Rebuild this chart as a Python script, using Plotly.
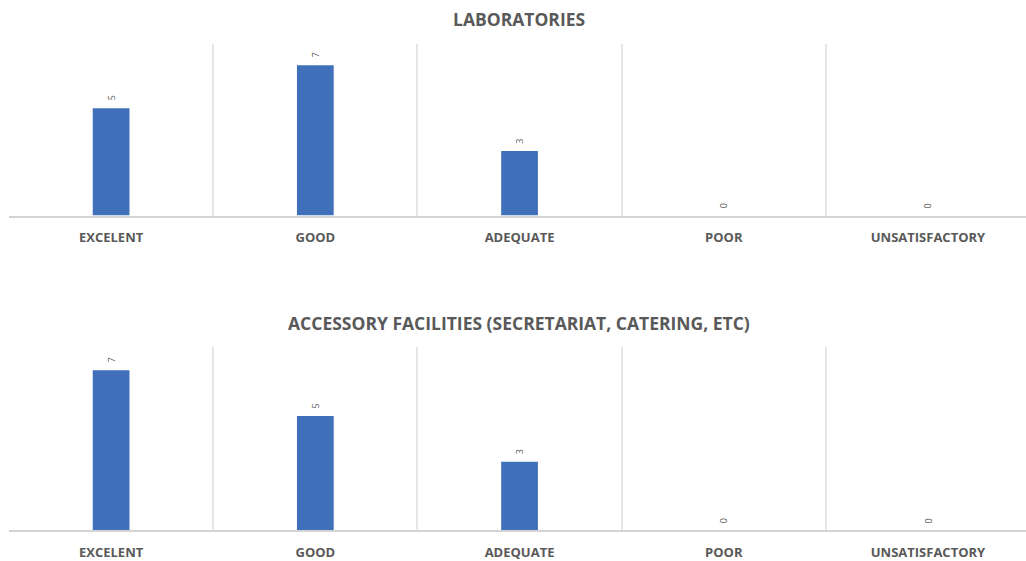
import plotly.graph_objects as go

categories = ["EXCELENT", "GOOD", "ADEQUATE", "POOR", "UNSATISFACTORY"]
laboratories = [5, 7, 3, 0, 0]
accessory = [7, 5, 3, 0, 0]
titles = ["LABORATORIES", "ACCESSORY FACILITIES (SECRETARIAT, CATERING, ETC)"]

BAR = "#4170BB"
TXT = "#595959"
GRID = "#E6E6E6"

H = 561.0
W = 1026.0

fig = go.Figure()
annotations = []
for i, vals in enumerate([laboratories, accessory]):
    ax = "" if i == 0 else "2"
    fig.add_trace(go.Bar(
        x=categories, y=vals, xaxis="x" + ax, yaxis="y" + ax,
        marker=dict(color=BAR, line=dict(width=0)),
        width=0.18, showlegend=False, hoverinfo="x+y",
    ))
    for c, v in zip(categories, vals):
        annotations.append(dict(
            x=c, y=v, xref="x" + ax, yref="y" + ax, text=str(v),
            textangle=-90, showarrow=False, yshift=10,
            xanchor="center", yanchor="middle",
            font=dict(family="Open Sans", size=9, color=TXT),
        ))

xdom = [9 / W, 1.0]
common_x = dict(
    type="category", tickson="boundaries", showgrid=True, gridcolor=GRID,
    gridwidth=1.5, showline=True, linecolor="#D4D4D4", linewidth=2,
    ticks="", range=[-0.5, 4.48], domain=xdom, ticklabelstandoff=9,
    tickfont=dict(family="Open Sans", size=13, color=TXT, weight="bold"),
    fixedrange=True,
)
common_y = dict(range=[0, 8], showgrid=False, showticklabels=False,
                zeroline=False, showline=False, ticks="", fixedrange=True)

for t, yc in zip(titles, [19, 325]):
    annotations.append(dict(
        text=t, xref="paper", yref="paper", x=519 / W, y=1 - yc / H,
        xanchor="center", yanchor="middle", showarrow=False,
        font=dict(family="Open Sans", size=17.5, color=TXT, weight="bold")))

fig.update_layout(
    width=1026, height=561,
    margin=dict(l=0, r=0, t=0, b=0),
    paper_bgcolor="white", plot_bgcolor="white",
    xaxis=dict(**common_x, anchor="y"),
    yaxis=dict(**common_y, domain=[1 - 216.7 / H, 1 - 44 / H], anchor="x"),
    xaxis2=dict(**common_x, anchor="y2"),
    yaxis2=dict(**common_y, domain=[1 - 533.3 / H, 1 - 349.3 / H], anchor="x2"),
    annotations=annotations,
)

fig.write_html("out.html")
